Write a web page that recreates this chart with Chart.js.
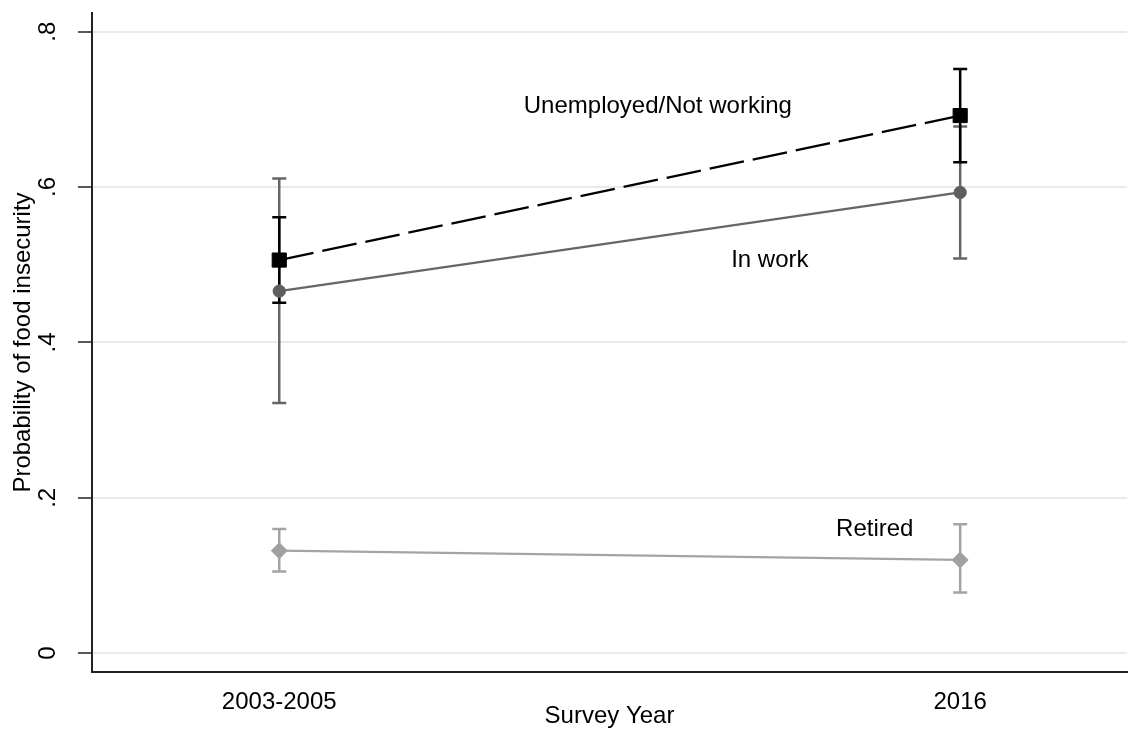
<!DOCTYPE html>
<html>
<head>
<meta charset="utf-8">
<script src="https://cdn.jsdelivr.net/npm/chart.js@4/dist/chart.umd.min.js"></script>
<style>
  html, body { margin: 0; padding: 0; background: #fff; }
  #wrap { width: 1140px; height: 729px; }
</style>
</head>
<body>
<div id="wrap"><canvas id="c" width="1140" height="729"></canvas></div>
<script>
// Survey periods and predicted probabilities with 95% confidence limits
const periods = ['2003-2005', '2016'];
const periodPos = [0, 1];
const yTicks = [0, 0.2, 0.4, 0.6, 0.8];
const yTickLabels = ['0', '.2', '.4', '.6', '.8'];

const unemployedMean = [0.506, 0.692];
const unemployedLow  = [0.451, 0.632];
const unemployedHigh = [0.561, 0.752];

const inWorkMean = [0.466, 0.593];
const inWorkLow  = [0.322, 0.508];
const inWorkHigh = [0.611, 0.678];

const retiredMean = [0.132, 0.120];
const retiredLow  = [0.105, 0.078];
const retiredHigh = [0.160, 0.166];

const groupNames = ['Unemployed/Not working', 'In work', 'Retired'];

const FONT = "'Liberation Sans', Arial, Helvetica, sans-serif";
const toPoints = vals => vals.map((v, i) => ({ x: periodPos[i], y: v }));

// where each group's name sits, in axis units
const nameAnchors = [
  { x: 0.556, y: 0.6956 },
  { x: 0.7205, y: 0.4974 },
  { x: 0.8746, y: 0.1512 }
];

const errorBars = {
  id: 'errorBars',
  beforeDatasetsDraw(chart) {
    const { ctx, scales: { x, y } } = chart;
    const sets = chart.data.datasets.slice().reverse();
    sets.forEach(ds => {
      ctx.save();
      ctx.strokeStyle = ds.borderColor;
      ctx.lineWidth = 2.5;
      ds.data.forEach((p, i) => {
        const px = x.getPixelForValue(p.x);
        const y1 = y.getPixelForValue(ds.low[i]);
        const y2 = y.getPixelForValue(ds.high[i]);
        ctx.beginPath();
        ctx.moveTo(px, y1); ctx.lineTo(px, y2);
        ctx.moveTo(px - 7, y1); ctx.lineTo(px + 7, y1);
        ctx.moveTo(px - 7, y2); ctx.lineTo(px + 7, y2);
        ctx.stroke();
      });
      ctx.restore();
    });
  }
};

const textLayer = {
  id: 'textLayer',
  afterDatasetsDraw(chart) {
    const { ctx, scales: { x, y } } = chart;
    ctx.save();
    ctx.fillStyle = '#000';
    ctx.font = '24px ' + FONT;
    ctx.textAlign = 'center';
    ctx.textBaseline = 'alphabetic';
    groupNames.forEach((name, i) => {
      ctx.fillText(name, x.getPixelForValue(nameAnchors[i].x), y.getPixelForValue(nameAnchors[i].y));
    });
    // rotated y tick labels
    yTicks.forEach((v, i) => {
      ctx.save();
      ctx.translate(55, y.getPixelForValue(v));
      ctx.rotate(-Math.PI / 2);
      ctx.fillText(yTickLabels[i], 0, 0);
      ctx.restore();
    });
    ctx.restore();
  }
};

new Chart(document.getElementById('c'), {
  type: 'line',
  data: {
    datasets: [
      {
        label: groupNames[0],
        data: toPoints(unemployedMean),
        low: unemployedLow, high: unemployedHigh,
        borderColor: '#000000', backgroundColor: '#000000',
        borderWidth: 2.3, borderDash: [35, 9],
        pointStyle: 'rect', pointRadius: 10, pointBorderWidth: 1
      },
      {
        label: groupNames[1],
        data: toPoints(inWorkMean),
        low: inWorkLow, high: inWorkHigh,
        borderColor: '#666666', backgroundColor: '#5e5e5e',
        borderWidth: 2.3,
        pointStyle: 'circle', pointRadius: 6.2, pointBorderWidth: 1
      },
      {
        label: groupNames[2],
        data: toPoints(retiredMean),
        low: retiredLow, high: retiredHigh,
        borderColor: '#a4a4a4', backgroundColor: '#a0a0a0',
        borderWidth: 2.3,
        pointStyle: 'rectRot', pointRadius: 8, pointBorderWidth: 1
      }
    ]
  },
  options: {
    responsive: false,
    animation: false,
    devicePixelRatio: 1,
    layout: { padding: { left: 0, top: 13, right: 13, bottom: 0 } },
    plugins: { legend: { display: false }, tooltip: { enabled: false } },
    elements: { line: { tension: 0 } },
    scales: {
      x: {
        type: 'linear',
        min: -0.275, max: 1.245,
        afterBuildTicks: s => { s.ticks = periodPos.map(v => ({ value: v })); },
        afterFit: s => { s.height = 57; },
        grid: { display: false, drawTicks: false },
        border: { display: true, color: '#222', width: 2 },
        ticks: {
          padding: 16,
          color: '#000',
          font: { family: FONT, size: 24 },
          maxRotation: 0,
          callback: v => periods[periodPos.indexOf(v)] ?? ''
        },
        title: {
          display: true, text: 'Survey Year', color: '#000',
          font: { family: FONT, size: 24, lineHeight: 1.05 }, padding: { top: 0, bottom: 0 }
        }
      },
      y: {
        type: 'linear',
        min: -0.0242, max: 0.824,
        afterBuildTicks: s => { s.ticks = yTicks.map(v => ({ value: v })); },
        afterFit: s => { s.width = 92; },
        grid: { color: '#eaeaea', lineWidth: 2, drawTicks: true, tickLength: 14, tickColor: '#222', tickWidth: 1.5 },
        border: { display: true, color: '#222', width: 2 },
        ticks: { display: false },
        title: {
          display: true, text: 'Probability of food insecurity', color: '#000',
          font: { family: FONT, size: 24 }, padding: { top: 9, bottom: 0 }
        }
      }
    }
  },
  plugins: [errorBars, textLayer]
});
</script>
</body>
</html>
